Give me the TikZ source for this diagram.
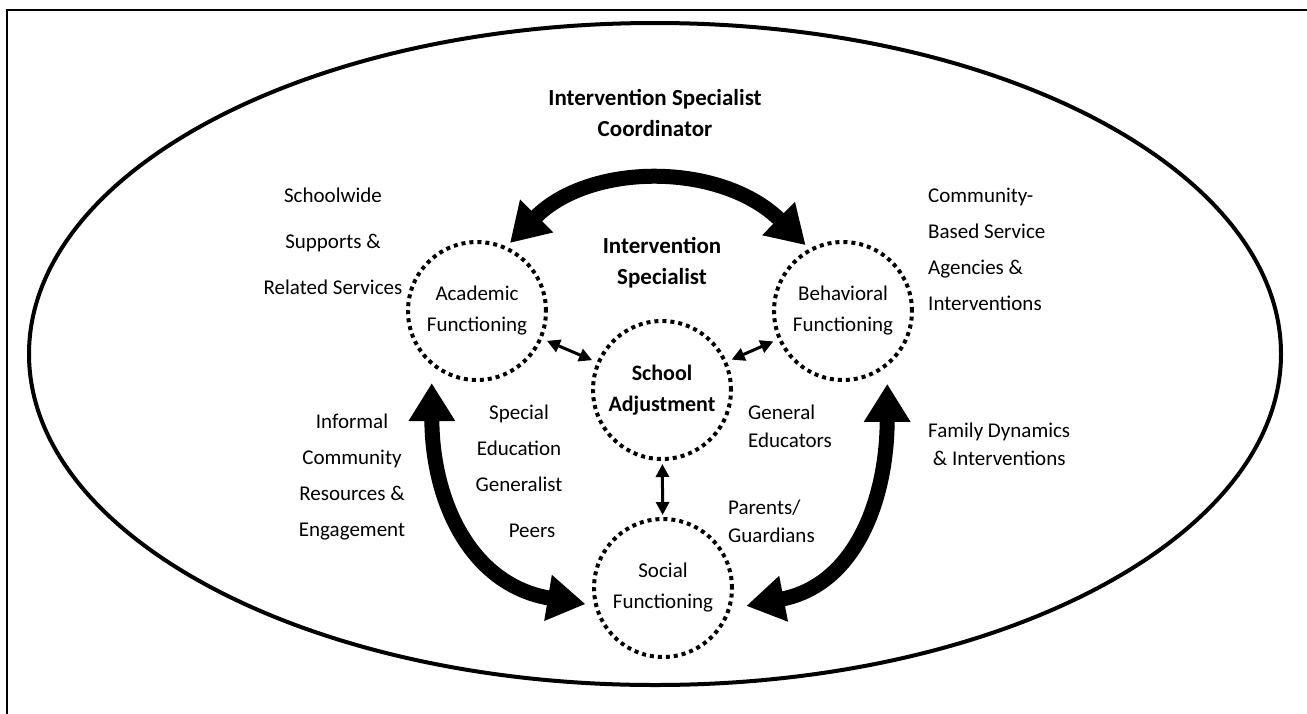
\documentclass[tikz,border=0pt]{standalone}
\usepackage{fontspec}
\setmainfont{Carlito}
\usetikzlibrary{arrows.meta}
\begin{document}
\begin{tikzpicture}[x=1pt,y=-1pt,
  lbl/.style={font=\fontsize{21}{36}\selectfont, align=center, inner sep=0pt},
  lbll/.style={font=\fontsize{21}{28}\selectfont, align=left, inner sep=0pt, anchor=west},
  bold/.style={font=\fontsize{23}{31}\selectfont\bfseries, align=center, inner sep=0pt},
  dotcirc/.style={circle, draw, line width=4pt, dash pattern=on 4pt off 4pt,
     minimum size=138pt, inner sep=0pt, outer sep=0pt, align=center,
     font=\fontsize{21}{31}\selectfont},
  bigarr/.style={line width=15pt, {Triangle[length=38pt,width=44pt]}-{Triangle[length=38pt,width=44pt]}},
  smallarr/.style={line width=3pt, {Triangle[length=13pt,width=13pt]}-{Triangle[length=13pt,width=13pt]}}
]
\useasboundingbox (0,0) rectangle (1307,713);
% frame
\draw[line width=2pt] (6.5,720) -- (6.5,10) -- (1320,10);
% outer ellipse
\draw[line width=4pt] (655,354) ellipse [x radius=626, y radius=331];

% circles
\node[dotcirc] (acad) at (477,311) {Academic\\Functioning};
\node[dotcirc] (behav) at (843,311) {Behavioral\\Functioning};
\node[dotcirc, font=\fontsize{22}{31}\selectfont\bfseries] (school) at (662,390) {School\\Adjustment};
\node[dotcirc] (social) at (663,588) {Social\\Functioning};

% texts
\node[bold] (coord) at (655,113) {Intervention Specialist\\Coordinator};
\node[bold] (spec) at (662,263) {Intervention\\Specialist};
\node[lbl, font=\fontsize{21}{46}\selectfont] (schoolwide) at (333,241) {Schoolwide\\Supports \&\\Related Services};
\node[lbll, font=\fontsize{21}{36}\selectfont] (community) at (928,249) {Community-\\Based Service\\Agencies \&\\Interventions};
\node[lbl] (informal) at (352,477) {Informal\\Community\\Resources \&\\Engagement};
\node[lbl] (sped) at (519,448) {Special\\Education\\Generalist};
\node[lbl] (peers) at (532,531) {Peers};
\node[lbll] (gened) at (748,426) {General\\Educators};
\node[lbll] (parents) at (728,521) {Parents/\\Guardians};
\node[lbll] (family) at (928,444) {Family Dynamics\\\ \& Interventions};

% big arrows
\draw[bigarr, shorten <=7pt, shorten >=7pt] (acad.66) .. controls (590,162) and (721,162) .. (behav.118);
\draw[bigarr, shorten <=20pt, shorten >=11pt] (acad.229) .. controls (432,500) and (470,585) .. (social.195);
\draw[bigarr, shorten <=20pt, shorten >=18pt] (behav.310) .. controls (887,500) and (855,585) .. (social.342);

% small arrows
\draw[smallarr, shorten <=7pt, shorten >=7pt] (acad) -- (school);
\draw[smallarr, shorten <=7pt, shorten >=7pt] (behav) -- (school);
\draw[smallarr, shorten <=5pt, shorten >=4pt] (school) -- (social);
\end{tikzpicture}
\end{document}
